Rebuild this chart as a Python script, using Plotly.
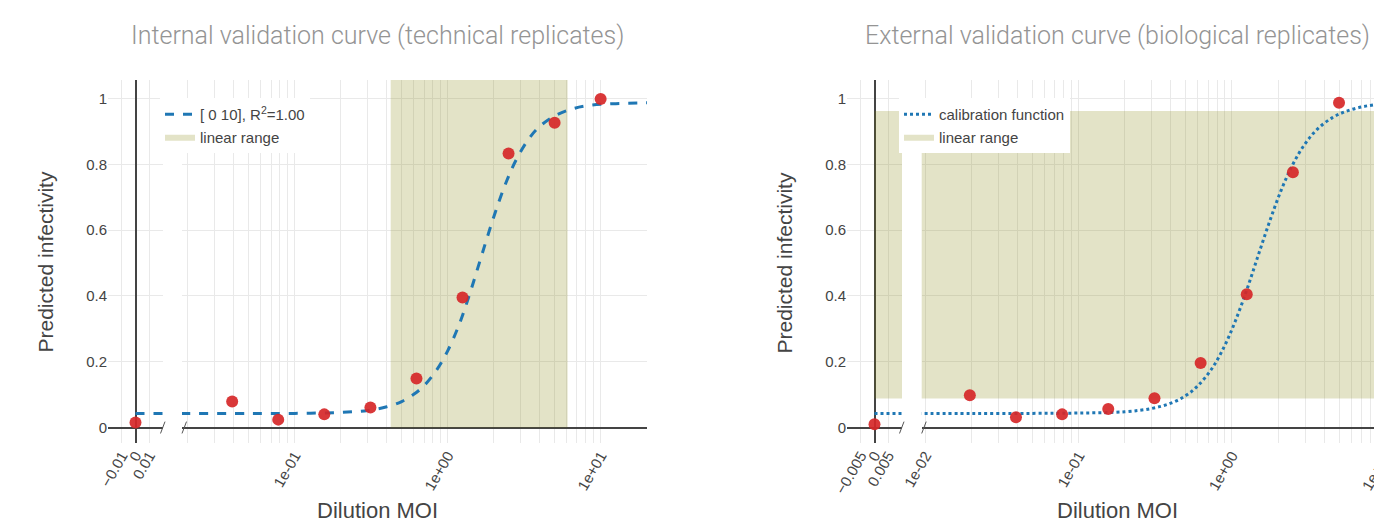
import plotly.graph_objects as go

# ---------------- data ----------------
internal_moi = [0, 0.039, 0.078, 0.156, 0.3125, 0.625, 1.25, 2.5, 5, 10]
internal_inf = [0.015, 0.079, 0.024, 0.040, 0.061, 0.149, 0.395, 0.833, 0.926, 0.998]

external_moi = [0, 0.0195, 0.039, 0.078, 0.156, 0.3125, 0.625, 1.25, 2.5, 5]
external_inf = [0.010, 0.098, 0.031, 0.040, 0.056, 0.089, 0.196, 0.405, 0.776, 0.987]

# fitted curves
internal_fit_x_zero = [0, 0.02]
internal_fit_y_zero = [0.043, 0.043]
internal_fit_x = [0.018, 0.05, 0.1, 0.2, 0.3, 0.4, 0.5, 0.6, 0.7, 0.85, 1.0, 1.2, 1.4,
                  1.65, 2.0, 2.4, 2.8, 3.4, 4.0, 5.0, 6.5, 8.5, 12, 21]
internal_fit_y = [0.043, 0.043, 0.043, 0.046, 0.052, 0.063, 0.079, 0.101, 0.127, 0.176,
                  0.233, 0.318, 0.409, 0.516, 0.640, 0.743, 0.813, 0.878, 0.915, 0.947,
                  0.968, 0.979, 0.984, 0.987]

external_fit_x_zero = [0, 0.02]
external_fit_y_zero = [0.043, 0.043]
external_fit_x = [0.009, 0.02, 0.05, 0.1, 0.2, 0.3, 0.4, 0.5, 0.6, 0.75, 0.9, 1.05, 1.25,
                  1.47, 1.75, 2.1, 2.5, 3.0, 3.6, 4.5, 5.5, 7, 9, 12, 16]
external_fit_y = [0.043, 0.043, 0.043, 0.044, 0.048, 0.058, 0.074, 0.097, 0.127, 0.183,
                  0.250, 0.322, 0.418, 0.517, 0.622, 0.722, 0.800, 0.862, 0.906, 0.941,
                  0.960, 0.974, 0.982, 0.986, 0.988]

# linear ranges
internal_lin_x = [0.424, 6.08]
internal_lin_y = [0, 1.056]
external_lin_x = [0, 50]
external_lin_y = [0.088, 0.962]

y_ticks = [0, 0.2, 0.4, 0.6, 0.8, 1]
y_ticktext = ["0", "0.2", "0.4", "0.6", "0.8", "1"]
int_zero_ticks = [-0.01, 0, 0.01]
int_zero_text = ["\u22120.01", "0", "0.01"]
ext_zero_ticks = [-0.005, 0, 0.005]
ext_zero_text = ["\u22120.005", "0", "0.005"]
decades = [-2, -1, 0, 1]
mults = [2, 3, 4, 5, 6, 7, 8, 9]

titles = ["Internal validation curve (technical replicates)",
          "External validation curve (biological replicates)"]
legend_fit = ["[ 0 10], R<sup>2</sup>=1.00", "calibration function"]

# ---------------- layout geometry ----------------
W, H = 1440, 524
def px(x):
    return x / W
def py(y):
    return (H - y) / H

Y_DOM = [py(443), py(80)]
Y_RANGE = [-0.047, 1.056]

decade_vals = [10 ** d for d in decades]
decade_text = [f"{v:.0e}" for v in decade_vals]
minor_vals = [m * 10 ** d for d in decades for m in mults]

RED = "rgba(214,39,40,0.92)"
BLUE = "#1f77b4"
SHADE = "rgba(128,128,0,0.22)"
GRID = "#e9e9e9"
ZL = "#444444"
FONT = "Liberation Sans, Arial, sans-serif"

fig = go.Figure()

def shade(xs, ys, xa, ya, show, leg):
    fig.add_trace(go.Scatter(
        x=[xs[0], xs[1], xs[1], xs[0], xs[0]], y=[ys[0], ys[0], ys[1], ys[1], ys[0]],
        fill="toself", fillcolor=SHADE, line=dict(width=0), mode="lines",
        name="linear range", showlegend=show, legend=leg, legendrank=2,
        xaxis=xa, yaxis=ya, hoverinfo="skip"))

# ---- left panel ----
shade(internal_lin_x, internal_lin_y, "x2", "y", True, "legend")
fig.add_trace(go.Scatter(x=internal_fit_x_zero, y=internal_fit_y_zero, mode="lines",
                         line=dict(color=BLUE, width=3, dash="dash"), showlegend=False,
                         xaxis="x", yaxis="y"))
fig.add_trace(go.Scatter(x=internal_fit_x, y=internal_fit_y, mode="lines",
                         line=dict(color=BLUE, width=3, dash="dash", shape="spline"),
                         name=legend_fit[0], legend="legend", legendrank=1,
                         xaxis="x2", yaxis="y"))
fig.add_trace(go.Scatter(x=internal_moi[:1], y=internal_inf[:1], mode="markers",
                         marker=dict(color=RED, size=12), showlegend=False,
                         xaxis="x", yaxis="y"))
fig.add_trace(go.Scatter(x=internal_moi[1:], y=internal_inf[1:], mode="markers",
                         marker=dict(color=RED, size=12), showlegend=False,
                         xaxis="x2", yaxis="y"))

# ---- right panel ----
shade(external_lin_x, external_lin_y, "x3", "y2", False, "legend2")
shade(external_lin_x, external_lin_y, "x4", "y2", True, "legend2")
fig.add_trace(go.Scatter(x=external_fit_x_zero, y=external_fit_y_zero, mode="lines",
                         line=dict(color=BLUE, width=3, dash="dot"), showlegend=False,
                         xaxis="x3", yaxis="y2"))
fig.add_trace(go.Scatter(x=external_fit_x, y=external_fit_y, mode="lines",
                         line=dict(color=BLUE, width=3, dash="dot", shape="spline"),
                         name=legend_fit[1], legend="legend2", legendrank=1,
                         xaxis="x4", yaxis="y2"))
fig.add_trace(go.Scatter(x=external_moi[:1], y=external_inf[:1], mode="markers",
                         marker=dict(color=RED, size=12), showlegend=False,
                         xaxis="x3", yaxis="y2"))
fig.add_trace(go.Scatter(x=external_moi[1:], y=external_inf[1:], mode="markers",
                         marker=dict(color=RED, size=12), showlegend=False,
                         xaxis="x4", yaxis="y2"))

tickfont = dict(family=FONT, size=15, color="#444")
xcommon = dict(showgrid=True, gridcolor=GRID, gridwidth=1, ticks="", showline=False,
               tickangle=-60, tickfont=tickfont, fixedrange=True, automargin=False)
ycommon = dict(range=Y_RANGE, domain=Y_DOM, tickvals=y_ticks, ticktext=y_ticktext,
               showgrid=True, gridcolor=GRID, zeroline=True, zerolinecolor=ZL,
               zerolinewidth=2, ticks="", showline=False, tickfont=tickfont,
               automargin=False, fixedrange=True)
minor = dict(tickvals=minor_vals, showgrid=True, gridcolor=GRID, gridwidth=1, ticks="")

fig.update_layout(
    width=W, height=H, margin=dict(l=0, r=0, t=0, b=0, autoexpand=False),
    plot_bgcolor="white", paper_bgcolor="white",
    font=dict(family=FONT, color="#444"),
    xaxis=dict(**xcommon, type="linear", range=[-0.02, 0.02], domain=[px(108), px(163)],
               anchor="y", tickvals=int_zero_ticks, ticktext=int_zero_text,
               zeroline=True, zerolinecolor=ZL, zerolinewidth=2),
    xaxis2=dict(**xcommon, type="log", range=[-1.737, 1.303], domain=[px(182), px(647)],
                anchor="y", tickvals=decade_vals, ticktext=decade_text, minor=minor),
    xaxis3=dict(**xcommon, type="linear", range=[-0.01, 0.01], domain=[px(847), px(902)],
                anchor="y2", tickvals=ext_zero_ticks, ticktext=ext_zero_text,
                zeroline=True, zerolinecolor=ZL, zerolinewidth=2),
    xaxis4=dict(**xcommon, type="log", range=[-2.024, 1.01], domain=[px(921.7), px(1386.7)],
                anchor="y2", tickvals=decade_vals, ticktext=decade_text, minor=minor),
    yaxis=dict(**ycommon, anchor="x"),
    yaxis2=dict(**ycommon, anchor="x3"),
    legend=dict(x=px(160), y=py(98), xanchor="left", yanchor="top", bgcolor="white",
                font=dict(family=FONT, size=15, color="#444"), tracegroupgap=0),
    legend2=dict(x=px(899), y=py(98), xanchor="left", yanchor="top", bgcolor="white",
                 font=dict(family=FONT, size=15, color="#444"), tracegroupgap=0),
)

# titles and axis titles
ann = []
for cx, t in zip([377.5, 1117], titles):
    ann.append(dict(text=t, x=px(cx), y=py(35), xref="paper", yref="paper",
                    showarrow=False, xanchor="center", yanchor="middle",
                    font=dict(family="Roboto", size=25, color="#949494", weight=300)))
for cx in [377.5, 1117]:
    ann.append(dict(text="Dilution MOI", x=px(cx), y=py(510), xref="paper", yref="paper",
                    showarrow=False, xanchor="center", yanchor="middle",
                    font=dict(family=FONT, size=22, color="#444")))
for cx in [45, 784]:
    ann.append(dict(text="Predicted infectivity", x=px(cx), y=py(262.5), xref="paper",
                    yref="paper", showarrow=False, textangle=-90, xanchor="center",
                    yanchor="middle", font=dict(family=FONT, size=21, color="#444")))
fig.update_layout(annotations=ann)

# axis break marks
shapes = []
for xa, lin in [("x", True), ("x2", False), ("x3", True), ("x4", False)]:
    ya = "y" if xa in ("x", "x2") else "y2"
    if lin:
        x0, x1 = 1 - 2.5 / 55, 1 + 2.0 / 55
    else:
        x0, x1 = 0.0, 4.5 / 465
    shapes.append(dict(type="line", xref=f"{xa} domain", yref=ya, x0=x0, x1=x1,
                       y0=-0.018, y1=0.018, line=dict(color="#555", width=1)))
fig.update_layout(shapes=shapes)

fig.write_html("out.html", config={"displayModeBar": False},
               post_script="document.body.style.margin='0';")
